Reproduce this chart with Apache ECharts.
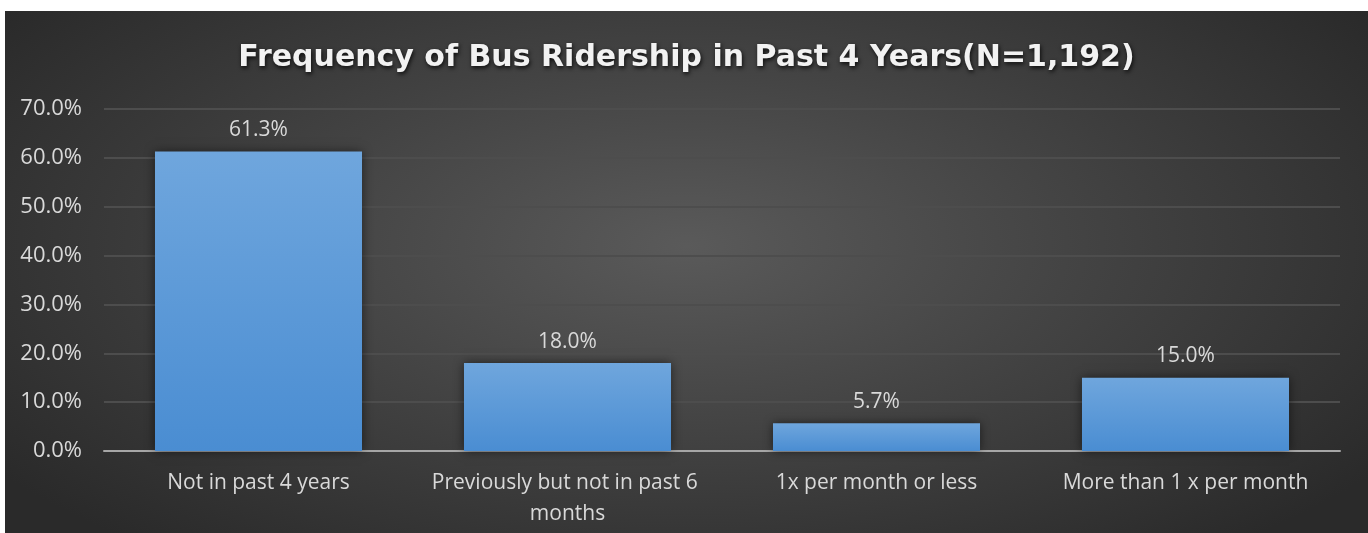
<!DOCTYPE html>
<html>
<head>
<meta charset="utf-8">
<script src="https://cdn.jsdelivr.net/npm/echarts@6/dist/echarts.min.js"></script>
<style>
  html, body { margin: 0; padding: 0; background: #ffffff; }
  #chart {
    position: absolute; left: 5px; top: 11px; width: 1363px; height: 522px;
    background: radial-gradient(ellipse 62% 75% at 50% 45%, #5a5a5a 0%, #444444 45%, #2a2a2a 100%);
  }
</style>
</head>
<body>
<div id="chart"></div>
<script>
const titleText = 'Frequency of Bus Ridership in Past 4 Years(N=1,192)';
const categories = [
  'Not in past 4 years',
  'Previously but not in past 6 months',
  '1x per month or less',
  'More than 1 x per month'
];
const shares = [61.3, 18.0, 5.7, 15.0];
const yTicks = { min: 0, max: 70, interval: 10 };

const chart = echarts.init(document.getElementById('chart'), null, { renderer: 'canvas' });
chart.setOption({
  backgroundColor: 'transparent',
  animation: false,
  title: {
    text: titleText,
    left: 'center',
    top: 27,
    textStyle: {
      fontFamily: 'DejaVu Sans',
      fontWeight: 'bold',
      fontSize: 30,
      color: '#f2f2f2',
      textShadowColor: 'rgba(0,0,0,0.8)',
      textShadowBlur: 4,
      textShadowOffsetX: 1,
      textShadowOffsetY: 2
    }
  },
  grid: { left: 99, right: 28, top: 98, bottom: 82, containLabel: false },
  xAxis: {
    type: 'category',
    data: categories,
    axisTick: { show: false },
    axisLine: { lineStyle: { color: '#a6a6a6', width: 2 } },
    axisLabel: {
      color: '#d9d9d9',
      fontFamily: 'Open Sans',
      fontSize: 21,
      margin: 17,
      width: 290,
      overflow: 'break',
      lineHeight: 31,
      interval: 0
    }
  },
  yAxis: {
    type: 'value',
    min: yTicks.min,
    max: yTicks.max,
    interval: yTicks.interval,
    axisLine: { show: false },
    axisTick: { show: false },
    splitLine: { lineStyle: { color: '#4d4d4d', width: 2 } },
    axisLabel: {
      color: '#d9d9d9',
      fontFamily: 'Open Sans',
      fontSize: 22,
      margin: 22,
      formatter: v => v.toFixed(1) + '%'
    }
  },
  series: [{
    type: 'bar',
    data: shares,
    barCategoryGap: '33%',
    itemStyle: {
      color: {
        type: 'linear', x: 0, y: 0, x2: 0, y2: 1,
        colorStops: [
          { offset: 0, color: '#6fa6dd' },
          { offset: 1, color: '#4a8dd2' }
        ]
      },
      shadowColor: 'rgba(0,0,0,0.55)',
      shadowBlur: 10
    },
    label: {
      show: true,
      position: 'top',
      distance: 11,
      color: '#d9d9d9',
      fontFamily: 'Open Sans',
      fontSize: 21,
      formatter: p => p.value.toFixed(1) + '%'
    }
  }]
});
</script>
</body>
</html>
